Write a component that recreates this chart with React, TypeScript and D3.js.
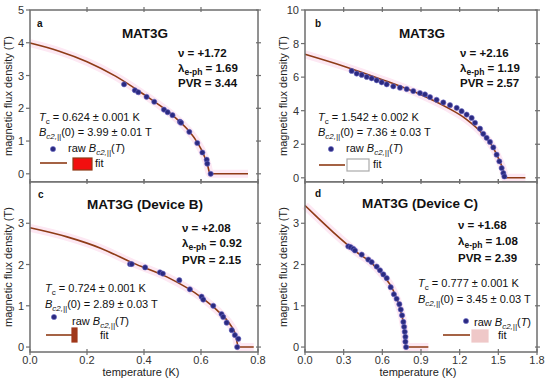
import React from 'react';
import * as d3 from 'd3';

// panel a: MAT3G, nu = +1.72
const aRawTemp = [0.33, 0.368, 0.38, 0.409, 0.436, 0.47, 0.483, 0.5, 0.526, 0.53, 0.559, 0.587, 0.605, 0.62, 0.622, 0.634];
const aRawField = [2.73, 2.55, 2.49, 2.35, 2.2, 1.96, 1.88, 1.79, 1.59, 1.56, 1.28, 0.94, 0.65, 0.43, 0.31, 0.0];
const aFitTemp = [0, 0.1, 0.2, 0.3, 0.4, 0.45, 0.5, 0.55, 0.58, 0.6, 0.612, 0.622, 0.632, 0.765];
const aFitField = [3.99, 3.75, 3.42, 2.98, 2.42, 2.12, 1.79, 1.38, 1.05, 0.76, 0.53, 0.3, 0, 0];

// panel b: MAT3G, nu = +2.16
const bRawTemp = [0.362, 0.401, 0.44, 0.479, 0.517, 0.556, 0.595, 0.634, 0.685, 0.737, 0.789, 0.84, 0.892, 0.931, 0.97,
  1.021, 1.073, 1.125, 1.177, 1.215, 1.254, 1.293, 1.319, 1.358, 1.383, 1.409, 1.435, 1.461, 1.487, 1.508, 1.526, 1.539, 1.547];
const bRawField = [6.37, 6.21, 6.13, 6.01, 5.93, 5.81, 5.69, 5.57, 5.45, 5.37, 5.29, 5.17, 5.05, 4.97, 4.81,
  4.65, 4.49, 4.33, 4.17, 3.97, 3.77, 3.57, 3.28, 2.93, 2.62, 2.38, 2.14, 1.81, 1.38, 0.98, 0.58, 0.28, 0.08];
const bFitTemp = [0, 0.3, 0.6, 0.9, 1.1, 1.25, 1.38, 1.46, 1.51, 1.54, 1.552, 1.71];
const bFitField = [7.36, 6.65, 5.85, 4.95, 4.2, 3.5, 2.6, 1.8, 1.0, 0.4, 0, 0];

// panel c: MAT3G (Device B)
const cRawTemp = [0.351, 0.357, 0.404, 0.456, 0.466, 0.524, 0.561, 0.602, 0.608, 0.643, 0.672, 0.678, 0.69, 0.708, 0.719, 0.731, 0.727];
const cRawField = [2.01, 2.01, 1.93, 1.81, 1.78, 1.62, 1.4, 1.22, 1.15, 1.0, 0.8, 0.73, 0.59, 0.41, 0.29, 0.2, 0.0];
const cFitTemp = [0, 0.13, 0.25, 0.36, 0.48, 0.6, 0.655, 0.7, 0.72, 0.732, 0.785];
const cFitField = [2.89, 2.67, 2.39, 2.04, 1.7, 1.21, 0.9, 0.57, 0.33, 0, 0];

// panel d: MAT3G (Device C)
const dRawTemp = [0.336, 0.354, 0.375, 0.388, 0.44, 0.491, 0.517, 0.556, 0.582, 0.608, 0.634, 0.665, 0.69, 0.711,
  0.732, 0.743, 0.753, 0.763, 0.769, 0.774, 0.779, 0.779, 0.784];
const dRawField = [2.44, 2.42, 2.38, 2.34, 2.24, 2.12, 2.06, 1.95, 1.86, 1.76, 1.67, 1.45, 1.28, 1.17,
  1.04, 0.91, 0.77, 0.61, 0.49, 0.37, 0.25, 0.13, 0.0];
const dFitTemp = [0, 0.1, 0.22, 0.4, 0.5, 0.6, 0.685, 0.737, 0.768, 0.784, 0.957];
const dFitField = [3.43, 3.13, 2.78, 2.3, 2.08, 1.76, 1.37, 0.93, 0.49, 0, 0];

const titles = ['MAT3G', 'MAT3G', 'MAT3G (Device B)', 'MAT3G (Device C)'];
const nuLabels = ['+1.72', '+2.16', '+2.08', '+1.68'];
const lambdaLabels = ['1.69', '1.19', '0.92', '1.08'];
const pvrLabels = ['3.44', '2.57', '2.15', '2.39'];
const tcLabels = ['0.624 ± 0.001 K', '1.542 ± 0.002 K', '0.724 ± 0.001 K', '0.777 ± 0.001 K'];
const bc2Labels = ['3.99 ± 0.01 T', '7.36 ± 0.03 T', '2.89 ± 0.03 T', '3.45 ± 0.03 T'];

const FONT = '"Liberation Sans", Arial, sans-serif';
const FIT = '#8e3b16';
const AXIS = '#6e6e6e';
const DOT = '#2b2a80';
const DOT_EDGE = '#6b6bc8';

const Panel = (p: any) => {
  const { left, right, top, bottom, xDomain, yDomain, xTicks, yTicks, showX, xFmt,
    rawT, rawB, fitT, fitB, idx, letter, L } = p;
  const x = d3.scaleLinear().domain(xDomain).range([left, right]);
  const y = d3.scaleLinear().domain(yDomain).range([bottom, top]);
  const fit = d3.line<number>().x((_, i) => x(fitT[i])).y((_, i) => y(fitB[i])).curve(d3.curveMonotoneX);
  const fitPath = fit(fitT) || '';
  const r = (dx: number) => left + dx;
  const t = (dy: number) => top + dy;
  return (
    <g fontFamily={FONT}>
      <rect x={left} y={top} width={right - left} height={bottom - top} fill="#fff" />
      <path d={fitPath} fill="none" stroke="#fde8f3" strokeWidth={8} />
      <path d={fitPath} fill="none" stroke={FIT} strokeWidth={1.6} />
      {rawT.map((tv: number, i: number) => (
        <circle key={i} cx={x(tv)} cy={y(rawB[i])} r={2.6} fill={DOT} stroke={DOT_EDGE} strokeWidth={0.6} />
      ))}
      <rect x={left} y={top} width={right - left} height={bottom - top} fill="none" stroke={AXIS} strokeWidth={1.5} />
      {yTicks.map((v: number) => (
        <g key={'y' + v}>
          <line x1={left - 4} x2={left} y1={y(v)} y2={y(v)} stroke={AXIS} strokeWidth={1.2} />
          <line x1={right - 2} x2={right + 3} y1={y(v)} y2={y(v)} stroke={AXIS} strokeWidth={1.2} />
          <text x={left - 6} y={y(v) + 4} textAnchor="end" fontSize={11} fill="#333">{v}</text>
        </g>
      ))}
      {xTicks.map((v: number) => (
        <g key={'x' + v}>
          <line x1={x(v)} x2={x(v)} y1={bottom - 3} y2={bottom + 3} stroke={AXIS} strokeWidth={1.2} />
          <line x1={x(v)} x2={x(v)} y1={top - 3} y2={top + 2} stroke={AXIS} strokeWidth={1.2} />
          {showX && <text x={x(v)} y={bottom + 12} textAnchor="middle" fontSize={11} fill="#333">{xFmt(v)}</text>}
        </g>
      ))}
      <text transform={`translate(${left - 18},${(top + bottom) / 2}) rotate(-90)`} textAnchor="middle" fontSize={11} fill="#222">
        magnetic flux density (T)
      </text>
      {showX && (
        <text x={(left + right) / 2 - 3} y={bottom + 24} textAnchor="middle" fontSize={11} fill="#222">temperature (K)</text>
      )}
      <text x={r(L.letter[0])} y={t(L.letter[1])} fontSize={10} fontWeight="bold" fill="#111">{letter}</text>
      <text x={r(L.title[0])} y={t(L.title[1])} textAnchor="middle" fontSize={13.5} fontWeight="bold" fill="#111">{titles[idx]}</text>
      <g fontSize={11.5} fontWeight="bold" fill="#111">
        <text x={r(L.stats[0])} y={t(L.stats[1])}>ν = {nuLabels[idx]}</text>
        <text x={r(L.stats[0])} y={t(L.stats[2])}>
          λ<tspan fontSize={8.5} dy={3}>e-ph</tspan><tspan dy={-3}> = {lambdaLabels[idx]}</tspan>
        </text>
        <text x={r(L.stats[0])} y={t(L.stats[3])}>PVR = {pvrLabels[idx]}</text>
      </g>
      <g fontSize={11} fill="#111">
        <text x={r(L.tc[0])} y={t(L.tc[1])}>
          <tspan fontStyle="italic">T</tspan><tspan fontSize={8} dy={3}>c</tspan><tspan dy={-3}> = {tcLabels[idx]}</tspan>
        </text>
        <text x={r(L.tc[0])} y={t(L.tc[2])}>
          <tspan fontStyle="italic">B</tspan><tspan fontSize={8} fontStyle="italic" dy={3}>c2,||</tspan>
          <tspan dy={-3}>(0) = {bc2Labels[idx]}</tspan>
        </text>
        <circle cx={r(L.dot[0])} cy={t(L.dot[1])} r={2.6} fill={DOT} stroke={DOT_EDGE} strokeWidth={0.6} />
        <text x={r(L.raw[0])} y={t(L.raw[1])}>
          raw <tspan fontStyle="italic">B</tspan><tspan fontSize={8} fontStyle="italic" dy={3}>c2,||</tspan>
          <tspan dy={-3}>(</tspan><tspan fontStyle="italic">T</tspan><tspan>)</tspan>
        </text>
        <line x1={r(L.line[0])} x2={r(L.line[1])} y1={t(L.line[2])} y2={t(L.line[2])} stroke={FIT} strokeWidth={1.6} />
        <rect x={r(L.box[0])} y={t(L.box[1])} width={L.box[2]} height={L.box[3]} fill={L.boxFill} stroke={L.boxStroke} strokeWidth={1.2} />
        <text x={r(L.fit[0])} y={t(L.fit[1])}>fit</text>
      </g>
    </g>
  );
};

const layouts = [
  { letter: [7, 17], title: [115, 28], stats: [148, 47, 61.5, 77], tc: [9, 111, 126], dot: [23, 139], raw: [38, 142],
    line: [10, 37, 153], box: [43, 148, 19, 12], boxFill: '#f20f0f', boxStroke: '#8e3b16', fit: [65, 157] },
  { letter: [10, 17], title: [117, 28], stats: [155, 47, 61.5, 77], tc: [13, 111, 126], dot: [26, 139], raw: [41, 142],
    line: [14, 40, 155], box: [42, 149, 22, 12], boxFill: '#fff', boxStroke: '#aaa', fit: [68, 158] },
  { letter: [8, 16], title: [115, 27], stats: [152, 50, 65, 82], tc: [15, 110, 126], dot: [24, 135], raw: [42, 143],
    line: [16, 42, 153], box: [42, 146, 5, 14], boxFill: '#a0381a', boxStroke: '#a0381a', fit: [70, 157] },
  { letter: [10, 15], title: [115, 26], stats: [153, 47, 63, 80], tc: [113, 105, 121], dot: [161, 139], raw: [169, 144],
    line: [138, 165, 153], box: [167, 148, 16, 12], boxFill: '#efc8c8', boxStroke: '#efc8c8', fit: [193, 157] },
];

export default function App() {
  return (
    <div style={{ position: 'fixed', left: 0, top: 0 }}>
      <svg width={550} height={385} style={{ display: 'block', background: '#fff' }}>
        <Panel idx={0} letter="a" L={layouts[0]} left={30} right={258} top={10} bottom={182}
          xDomain={[0, 0.8]} yDomain={[-0.25, 5]} xTicks={[0.2, 0.4, 0.6]} yTicks={[0, 1, 2, 3, 4, 5]}
          showX={false} xFmt={(v: number) => v.toFixed(1)} rawT={aRawTemp} rawB={aRawField} fitT={aFitTemp} fitB={aFitField} />
        <Panel idx={1} letter="b" L={layouts[1]} left={305} right={537} top={10} bottom={182}
          xDomain={[0, 1.8]} yDomain={[-0.25, 10]} xTicks={[0.3, 0.6, 0.9, 1.2, 1.5]} yTicks={[0, 2, 4, 6, 8, 10]}
          showX={false} xFmt={(v: number) => v.toFixed(1)} rawT={bRawTemp} rawB={bRawField} fitT={bFitTemp} fitB={bFitField} />
        <Panel idx={2} letter="c" L={layouts[2]} left={30} right={258} top={182} bottom={352}
          xDomain={[0, 0.8]} yDomain={[-0.12, 4]} xTicks={[0, 0.2, 0.4, 0.6, 0.8]} yTicks={[0, 1, 2, 3]}
          showX={true} xFmt={(v: number) => v.toFixed(1)} rawT={cRawTemp} rawB={cRawField} fitT={cFitTemp} fitB={cFitField} />
        <Panel idx={3} letter="d" L={layouts[3]} left={305} right={537} top={182} bottom={352}
          xDomain={[0, 1.8]} yDomain={[-0.12, 4]} xTicks={[0, 0.3, 0.6, 0.9, 1.2, 1.5, 1.8]} yTicks={[0, 1, 2, 3]}
          showX={true} xFmt={(v: number) => v.toFixed(1)} rawT={dRawTemp} rawB={dRawField} fitT={dFitTemp} fitB={dFitField} />
      </svg>
    </div>
  );
}
